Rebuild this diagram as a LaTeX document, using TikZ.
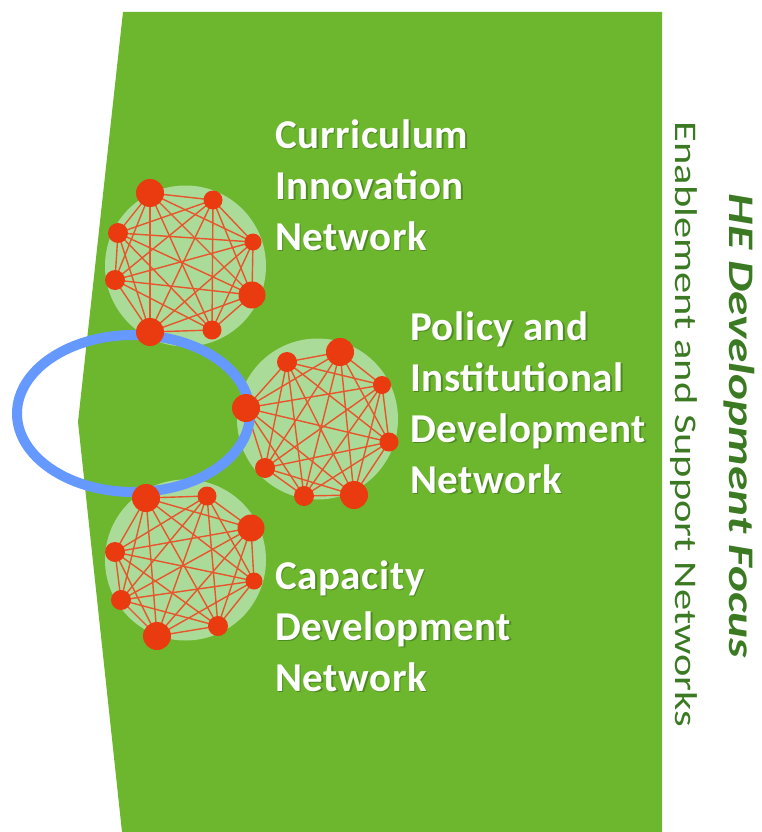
\documentclass[tikz,border=0pt]{standalone}
\usepackage{fontspec}
\setmainfont{Carlito}
\usetikzlibrary{backgrounds}
\pgfdeclarelayer{edgelayer}
\pgfdeclarelayer{ringlayer}
\pgfsetlayers{background,edgelayer,ringlayer,main}
\definecolor{bggreen}{HTML}{6CB72E}
\definecolor{halogreen}{HTML}{ABDB98}
\definecolor{nodered}{HTML}{E93A10}
\definecolor{edgered}{HTML}{E8552C}
\definecolor{ringblue}{HTML}{6699FF}
\definecolor{darkgreen}{HTML}{3B7A23}
\definecolor{shadowgreen}{HTML}{4E8A22}
\newcommand\shtxt[1]{\rlap{\hspace{1.5pt}\raisebox{-1.5pt}{\textcolor{shadowgreen}{#1}}}#1}
\tikzset{
  rednode/.style={circle, fill=nodered, inner sep=0pt, outer sep=0pt, minimum size=#1},
  halo/.style={circle, fill=halogreen, inner sep=0pt, minimum size=161pt},
  edge/.style={draw=edgered, line width=1.4pt},
  lbl/.style={anchor=base west, text=white, inner sep=0pt, font=\fontsize{41}{48}\selectfont\bfseries\addfontfeatures{LetterSpace=1.5}},
  vtxt/.style={rotate=-90, anchor=base, inner sep=0pt, text=darkgreen},
}
\begin{document}
\begin{tikzpicture}[x=1pt,y=-1pt]
\useasboundingbox (0,0) rectangle (761,832);
\begin{pgfonlayer}{background}
  \fill[bggreen] (123,12) -- (662,12) -- (662,832) -- (122,832) -- (78,422) -- cycle;
  \node[halo] (ha) at (185.5,266) {};
  \node[halo] (hb) at (317.5,419) {};
  \node[halo] (hc) at (185.5,560) {};
\end{pgfonlayer}
\begin{pgfonlayer}{ringlayer}
  \draw[ringblue, line width=10pt] (133.5,413.5) ellipse [x radius=116.5pt, y radius=78.5pt];
\end{pgfonlayer}
% cluster a
\node[rednode=28pt] (a1) at (150,193) {};
\node[rednode=19pt] (a2) at (213,200) {};
\node[rednode=17pt] (a3) at (253,242) {};
\node[rednode=27pt] (a4) at (252,295) {};
\node[rednode=19pt] (a5) at (212,330) {};
\node[rednode=28pt] (a6) at (150,332) {};
\node[rednode=20pt] (a7) at (115,280) {};
\node[rednode=20pt] (a8) at (118,233) {};
% cluster b
\node[rednode=20pt] (b1) at (287,362) {};
\node[rednode=28pt] (b2) at (340,352) {};
\node[rednode=18pt] (b3) at (382,385) {};
\node[rednode=19pt] (b4) at (389,442) {};
\node[rednode=28pt] (b5) at (354,495) {};
\node[rednode=20pt] (b6) at (304,496) {};
\node[rednode=20pt] (b7) at (265,468) {};
\node[rednode=28pt] (b8) at (246,408) {};
% cluster c
\node[rednode=28pt] (c1) at (146,498) {};
\node[rednode=19pt] (c2) at (207,496) {};
\node[rednode=27pt] (c3) at (251,528) {};
\node[rednode=17pt] (c4) at (254,581) {};
\node[rednode=20pt] (c5) at (218,626) {};
\node[rednode=28pt] (c6) at (157,636) {};
\node[rednode=20pt] (c7) at (121,600) {};
\node[rednode=20pt] (c8) at (115,552) {};
\begin{pgfonlayer}{edgelayer}
\foreach \c in {a,b,c}{
  \foreach \i in {1,...,7}{
    \pgfmathtruncatemacro\k{\i+1}
    \foreach \j in {\k,...,8}{
      \draw[edge] (\c\i.center) -- (\c\j.center);
    }
  }
}
\end{pgfonlayer}
% labels
\node[lbl] (t11) at (275,148) {\shtxt{Curriculum}};
\node[lbl] (t12) at (275,199) {\shtxt{Innovation}};
\node[lbl] (t13) at (275,250) {\shtxt{Network}};
\node[lbl] (t21) at (410,340) {\shtxt{Policy and}};
\node[lbl] (t22) at (410,391) {\shtxt{Institutional}};
\node[lbl] (t23) at (410,442) {\shtxt{Development}};
\node[lbl] (t24) at (410,493) {\shtxt{Network}};
\node[lbl] (t31) at (275,589) {\shtxt{Capacity}};
\node[lbl] (t32) at (275,640) {\shtxt{Development}};
\node[lbl] (t33) at (275,691) {\shtxt{Network}};
\node[vtxt, font=\fontsize{31.5}{36}\selectfont\addfontfeatures{FakeStretch=1.35}] (sub) at (675,424.5) {Enablement and Support Networks};
\node[vtxt, font=\fontsize{36}{40}\selectfont\bfseries\itshape\addfontfeatures{FakeStretch=1.37}] (title) at (729,426) {HE Development Focus};
\end{tikzpicture}
\end{document}
